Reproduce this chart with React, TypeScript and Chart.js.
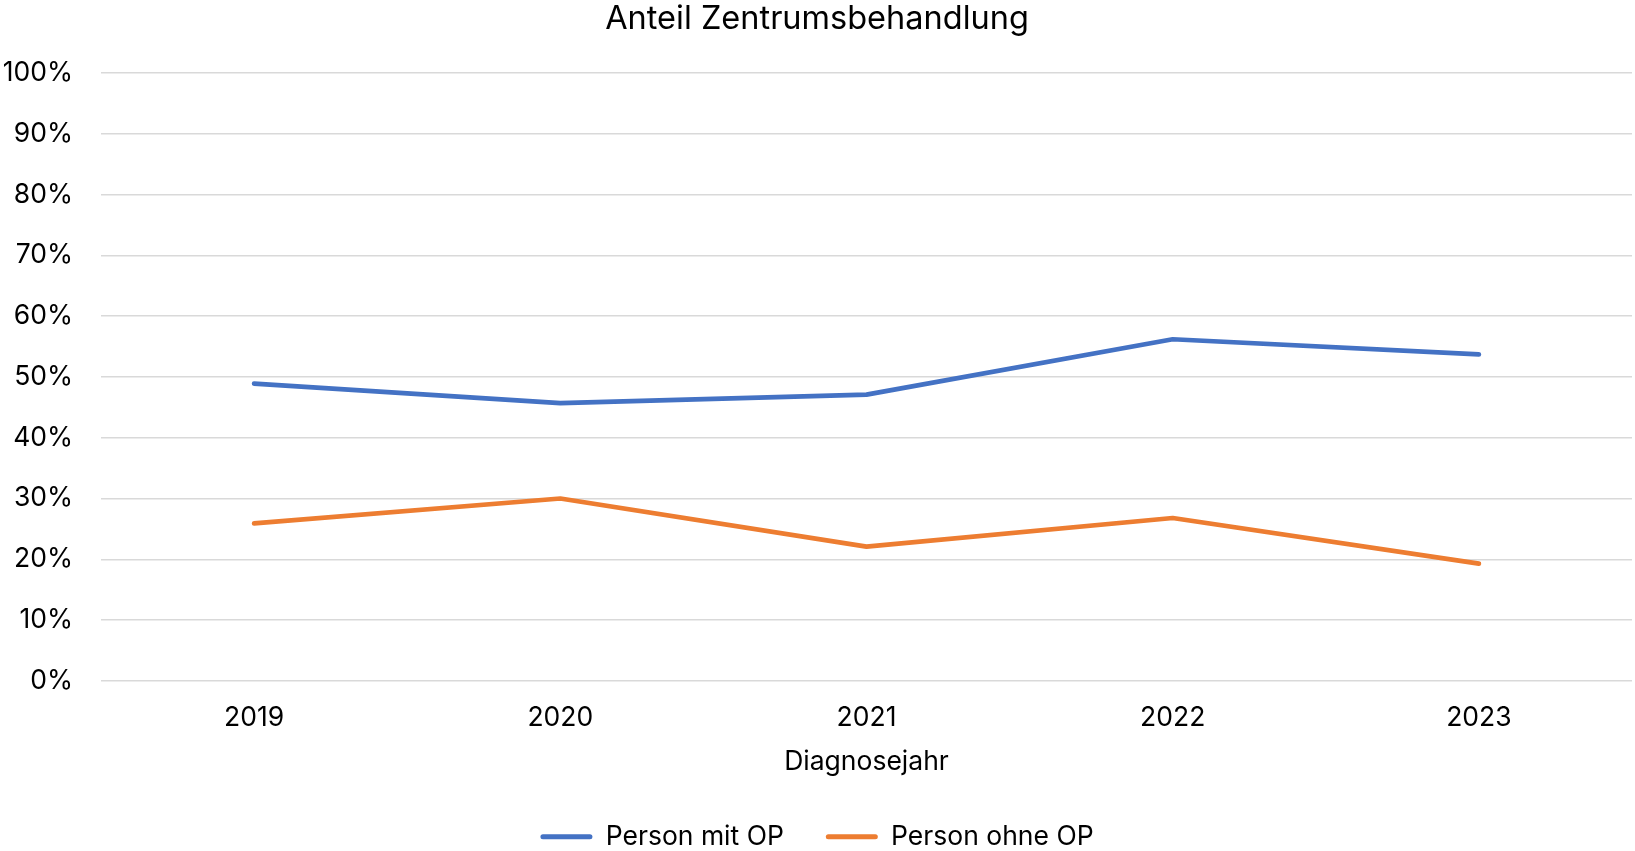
import React, { useEffect, useRef } from 'react';
import { Chart, registerables } from 'chart.js';
Chart.register(...registerables);

const years = ['2019', '2020', '2021', '2022', '2023'];
const mitOP = [48.9, 45.7, 47.1, 56.2, 53.7];
const ohneOP = [25.9, 30.0, 22.1, 26.8, 19.3];
const seriesNames = ['Person mit OP', 'Person ohne OP'];
const seriesColors = ['#4472C4', '#ED7D31'];

const FONT = 'Inter, "Open Sans", sans-serif';
const FS = 26.5;

export default function App() {
  const ref = useRef<HTMLCanvasElement>(null);
  useEffect(() => {
    const chart = new Chart(ref.current!, {
      type: 'line',
      data: {
        labels: years,
        datasets: [
          { label: seriesNames[0], data: mitOP, borderColor: seriesColors[0], backgroundColor: seriesColors[0], borderWidth: 4.7, pointRadius: 0, borderCapStyle: 'round', borderJoinStyle: 'round', tension: 0 },
          { label: seriesNames[1], data: ohneOP, borderColor: seriesColors[1], backgroundColor: seriesColors[1], borderWidth: 4.7, pointRadius: 0, borderCapStyle: 'round', borderJoinStyle: 'round', tension: 0 },
        ],
      },
      options: {
        animation: false,
        responsive: false,
        maintainAspectRatio: false,
        layout: { padding: { left: 2, right: 3, top: 0, bottom: 0 } },
        plugins: {
          title: {
            display: true,
            text: 'Anteil Zentrumsbehandlung',
            color: '#000',
            font: { family: FONT, size: 32.5, weight: 'normal' },
            padding: { top: 0, bottom: 34 },
          },
          legend: {
            position: 'bottom',
            labels: {
              boxWidth: 52,
              boxHeight: 5,
              color: '#000',
              font: { family: FONT, size: FS },
              padding: 42,
              generateLabels: (c: any) =>
                c.data.datasets.map((d: any, i: number) => ({
                  text: d.label,
                  fillStyle: d.borderColor,
                  strokeStyle: d.borderColor,
                  lineWidth: 0,
                  hidden: false,
                  datasetIndex: i,
                  fontColor: '#000',
                  borderRadius: 2.5,
                })),
              useBorderRadius: true,
            },
          },
          tooltip: { enabled: false },
        },
        scales: {
          x: {
            offset: true,
            grid: { display: false, drawTicks: false },
            border: { display: false },
            ticks: { padding: 21, color: '#000', font: { family: FONT, size: FS } },
            title: { display: true, text: 'Diagnosejahr', color: '#000', font: { family: FONT, size: FS }, padding: { top: -9, bottom: 4 } },
          },
          y: {
            min: 0,
            max: 100,
            afterFit: (s: any) => { s.width = 99; },
            ticks: { stepSize: 10, callback: (v: any) => v + '%', padding: 28, color: '#000', font: { family: FONT, size: FS } },
            grid: { color: '#d9d9d9', lineWidth: 1.5, drawTicks: false },
            border: { display: false },
          },
        },
      },
    });
    return () => chart.destroy();
  }, []);
  return (
    <div style={{ position: 'fixed', left: 0, top: 0, width: 1635, height: 851, background: '#fff', overflow: 'hidden' }}>
      <canvas ref={ref} width={1635} height={860} style={{ display: 'block' }} />
    </div>
  );
}
